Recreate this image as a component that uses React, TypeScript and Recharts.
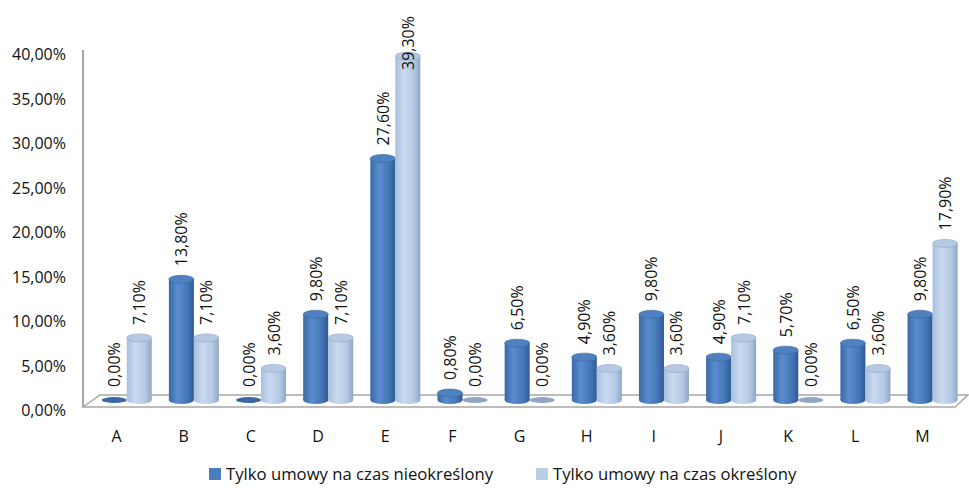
import React from 'react';
import { BarChart, Bar, XAxis, YAxis, LabelList, Customized } from 'recharts';

const categories = ['A', 'B', 'C', 'D', 'E', 'F', 'G', 'H', 'I', 'J', 'K', 'L', 'M'];
const nieokreslony = [0, 13.8, 0, 9.8, 27.6, 0.8, 6.5, 4.9, 9.8, 4.9, 5.7, 6.5, 9.8];
const okreslony = [7.1, 7.1, 3.6, 7.1, 39.3, 0, 0, 3.6, 3.6, 7.1, 0, 3.6, 17.9];
const yTicks = [0, 5, 10, 15, 20, 25, 30, 35, 40];
const seriesNames = ['Tylko umowy na czas nieokreślony', 'Tylko umowy na czas określony'];

const data = categories.map((name, i) => ({ name, a: nieokreslony[i], b: okreslony[i] }));

const W = 969;
const H = 488;
const FONT = '"Open Sans", "Noto Sans", sans-serif';
const margin = { top: 50, right: 3, bottom: 48, left: 8 };
const PLOT_TOP = margin.top;
const PLOT_BOTTOM = H - margin.bottom - 40;

const pct = (v: number) => v.toFixed(2).replace('.', ',') + '%';

const DARK = '#4A7EBF';
const LIGHT = '#B9CDE5';

function Cylinder(props: any) {
  const { x, y, width, height, gid, top, edge } = props;
  const cx = x + width / 2;
  const rx = width / 2;
  const ry = 4;
  if (!height || height < 1) {
    return <ellipse cx={cx} cy={y + (height || 0)} rx={rx} ry={3} fill={edge} />;
  }
  const bottom = y + height;
  return (
    <g>
      <ellipse cx={cx} cy={bottom} rx={rx} ry={ry} fill={`url(#${gid})`} />
      <rect x={x} y={y} width={width} height={height} fill={`url(#${gid})`} />
      <ellipse cx={cx} cy={y} rx={rx} ry={ry} fill={top} stroke={edge} strokeWidth={0.6} />
    </g>
  );
}

function ValueLabel(props: any) {
  const { x, y, width, value } = props;
  const cx = x + width / 2;
  const base = Math.max(y - 13, 70);
  return (
    <text
      x={cx}
      y={base}
      transform={`rotate(-90 ${cx} ${base})`}
      textAnchor="start"
      dominantBaseline="central"
      fontFamily={FONT}
      fontSize={16}
      fill="#111"
    >
      {pct(value)}
    </text>
  );
}

// tick labels sit on the back wall, so they spread a little wider than the bars
function YTick({ y, payload }: any) {
  const ly = y + 4 + ((y - PLOT_TOP) / (PLOT_BOTTOM - PLOT_TOP)) * 6;
  return (
    <text x={66} y={ly} textAnchor="end" dominantBaseline="central" fontFamily={FONT} fontSize={16} fill="#111">
      {pct(payload.value)}
    </text>
  );
}

function XTick({ x, payload }: any) {
  return (
    <text x={x - 10} y={436} textAnchor="middle" dominantBaseline="central" fontFamily={FONT} fontSize={16} fill="#111">
      {payload.value}
    </text>
  );
}

// floor plate and the value axis edge
function Floor() {
  return (
    <g>
      <polygon
        points="83,407 100,395 968,395 955,407"
        fill="#fff"
        stroke="#A6A6A6"
        strokeWidth={1.5}
      />
      <line x1={83} y1={50} x2={83} y2={407} stroke="#A6A6A6" strokeWidth={2} />
    </g>
  );
}

function LegendItem({ left, color, label }: { left: number; color: string; label: string }) {
  return (
    <div
      style={{
        position: 'absolute',
        top: 462,
        left,
        display: 'flex',
        alignItems: 'center',
        fontFamily: FONT,
        fontSize: 16.7,
        color: '#111',
        whiteSpace: 'nowrap',
      }}
    >
      <span style={{ width: 12, height: 12, background: color, marginRight: 5, marginTop: 1 }} />
      <span>{label}</span>
    </div>
  );
}

export default function App() {
  return (
    <div style={{ position: 'absolute', left: 0, top: 0, width: W, height: H, background: '#fff' }}>
      <BarChart width={W} height={H} data={data} margin={margin} barGap={0} barCategoryGap="13%">
        <defs>
          <linearGradient id="gDark" x1="0" y1="0" x2="1" y2="0">
            <stop offset="0" stopColor="#3A68A3" />
            <stop offset="0.35" stopColor="#5A8DD0" />
            <stop offset="0.75" stopColor="#4476B6" />
            <stop offset="1" stopColor="#2E5A92" />
          </linearGradient>
          <linearGradient id="gLight" x1="0" y1="0" x2="1" y2="0">
            <stop offset="0" stopColor="#A9BFDB" />
            <stop offset="0.35" stopColor="#CADBF0" />
            <stop offset="0.75" stopColor="#B3C8E3" />
            <stop offset="1" stopColor="#8EA6C6" />
          </linearGradient>
        </defs>
        <Customized component={Floor} />
        <XAxis dataKey="name" axisLine={false} tickLine={false} height={40} tick={<XTick />} interval={0} />
        <YAxis
          domain={[0, 40]}
          ticks={yTicks}
          width={85}
          axisLine={false}
          tickLine={false}
          tick={<YTick />}
          interval={0}
        />
        <Bar
          dataKey="a"
          name={seriesNames[0]}
          fill={DARK}
          isAnimationActive={false}
          shape={(p: any) => <Cylinder {...p} gid="gDark" top="#4F80C0" edge="#3A67A0" />}
        >
          <LabelList dataKey="a" content={<ValueLabel />} />
        </Bar>
        <Bar
          dataKey="b"
          name={seriesNames[1]}
          fill={LIGHT}
          isAnimationActive={false}
          shape={(p: any) => <Cylinder {...p} gid="gLight" top="#B5C9E2" edge="#8FA5C2" />}
        >
          <LabelList dataKey="b" content={<ValueLabel />} />
        </Bar>
      </BarChart>
      <LegendItem left={209} color={DARK} label={seriesNames[0]} />
      <LegendItem left={536} color={LIGHT} label={seriesNames[1]} />
    </div>
  );
}
